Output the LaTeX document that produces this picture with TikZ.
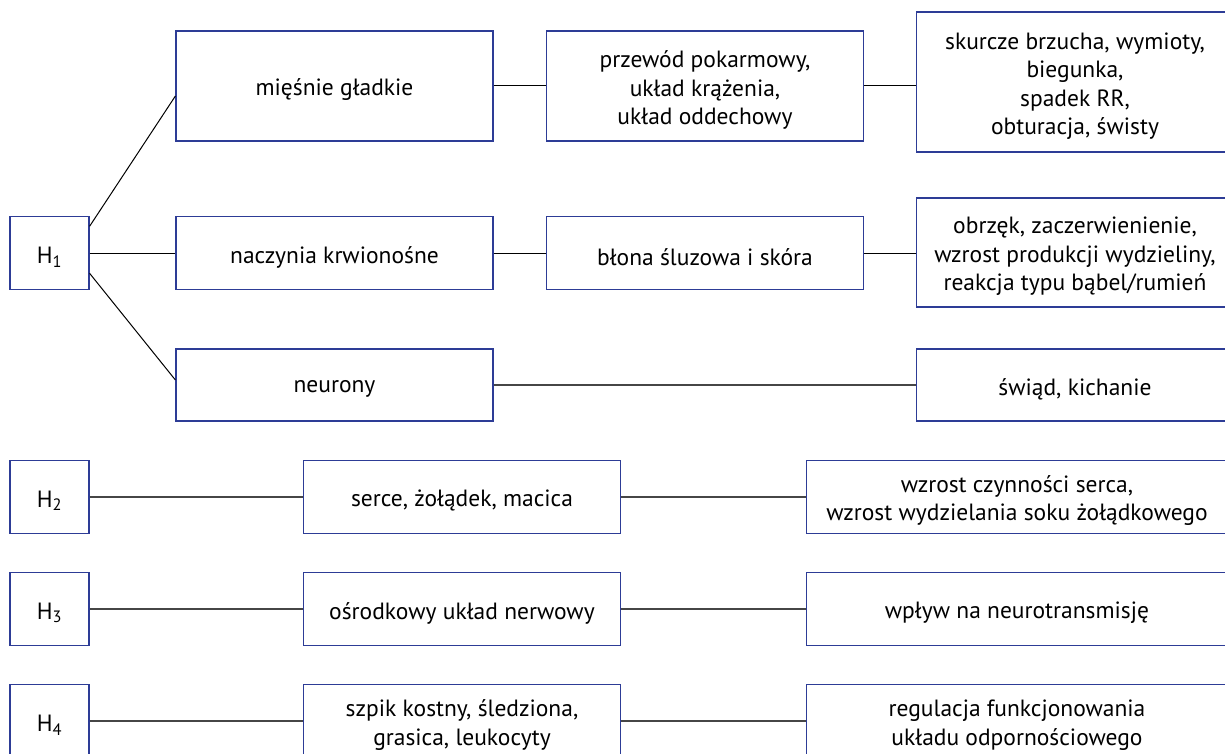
\documentclass[tikz,border=0pt]{standalone}
\usepackage{fontspec}
\setmainfont{PT Sans}
\definecolor{boxblue}{RGB}{45,60,150}
\definecolor{linegray}{RGB}{70,70,70}
\tikzset{
  box/.style={draw=boxblue, line width=1.2pt, fill=white, inner sep=0pt},
  lbl/.style={align=center, inner sep=0pt, font=\fontsize{23.5}{28.5}\selectfont, text=black, yshift=-4pt},
  txt/.style={label={[lbl]center:{#1}}},
  hbox/.style={box, minimum width=79pt, minimum height=73pt},
  colbox/.style={box, minimum width=317pt},
  widebox/.style={box, minimum width=421pt, minimum height=73pt},
  thin/.style={draw=black, line width=1pt},
  thick/.style={draw=linegray, line width=1.6pt}
}
\begin{document}
\begin{tikzpicture}[x=1pt,y=-1pt]
\clip (0,0) rectangle (1225,754);
\fill[white] (0,0) rectangle (1225,754);
% H1 group
\node[hbox, txt={H\textsubscript{1}}] (h1) at (49.5,253.3) {};
\node[colbox, minimum height=110pt, txt={mięśnie gładkie}] (m1) at (334.5,86) {};
\node[colbox, minimum height=110pt, txt={przewód pokarmowy,\\układ krążenia,\\układ oddechowy}] (m2) at (705,86) {};
\node[colbox, minimum height=140pt, txt={skurcze brzucha, wymioty,\\biegunka,\\spadek RR,\\obturacja, świsty}] (m3) at (1075,82) {};
\node[colbox, minimum height=73pt, txt={naczynia krwionośne}] (n1) at (334.5,253.3) {};
\node[colbox, minimum height=73pt, txt={błona śluzowa i skóra}] (n2) at (705,253.3) {};
\node[colbox, minimum height=109pt, txt={obrzęk, zaczerwienienie,\\wzrost produkcji wydzieliny,\\reakcja typu bąbel/rumień}] (n3) at (1075,252.5) {};
\node[colbox, minimum height=72pt, txt={neurony}] (r1) at (334.5,385) {};
\node[colbox, minimum height=72pt, txt={świąd, kichanie}] (r3) at (1075,385) {};
\draw[thin] ([yshift=27pt]h1.east) -- ([yshift=-10pt]m1.west);
\draw[thin] (h1.east) -- (n1.west);
\draw[thin] ([yshift=-20pt]h1.east) -- ([yshift=5pt]r1.west);
\draw[thin] (m1.east) -- (m2.west);
\draw[thin] (m2.east) -- (m3.west |- m2.east);
\draw[thin] (n1.east) -- (n2.west);
\draw[thin] (n2.east) -- (n3.west |- n2.east);
\draw[thick] (r1.east) -- (r3.west);
% H2
\node[hbox, txt={H\textsubscript{2}}] (h2) at (49.5,496.7) {};
\node[colbox, minimum height=73pt, txt={serce, żołądek, macica}] (s2) at (462,496.7) {};
\node[widebox, txt={wzrost czynności serca,\\wzrost wydzielania soku żołądkowego}] (t2) at (1017,496.7) {};
\draw[thick] (h2) -- (s2);
\draw[thick] (s2) -- (t2);
% H3
\node[hbox, txt={H\textsubscript{3}}] (h3) at (49.5,609) {};
\node[colbox, minimum height=73pt, txt={ośrodkowy układ nerwowy}] (s3) at (462,609) {};
\node[widebox, txt={wpływ na neurotransmisję}] (t3) at (1017,609) {};
\draw[thick] (h3) -- (s3);
\draw[thick] (s3) -- (t3);
% H4
\node[hbox, txt={H\textsubscript{4}}] (h4) at (49.5,721) {};
\node[colbox, minimum height=73pt, txt={szpik kostny, śledziona,\\grasica, leukocyty}] (s4) at (462,721) {};
\node[widebox, txt={regulacja funkcjonowania\\układu odpornościowego}] (t4) at (1017,721) {};
\draw[thick] (h4) -- (s4);
\draw[thick] (s4) -- (t4);
\end{tikzpicture}
\end{document}
